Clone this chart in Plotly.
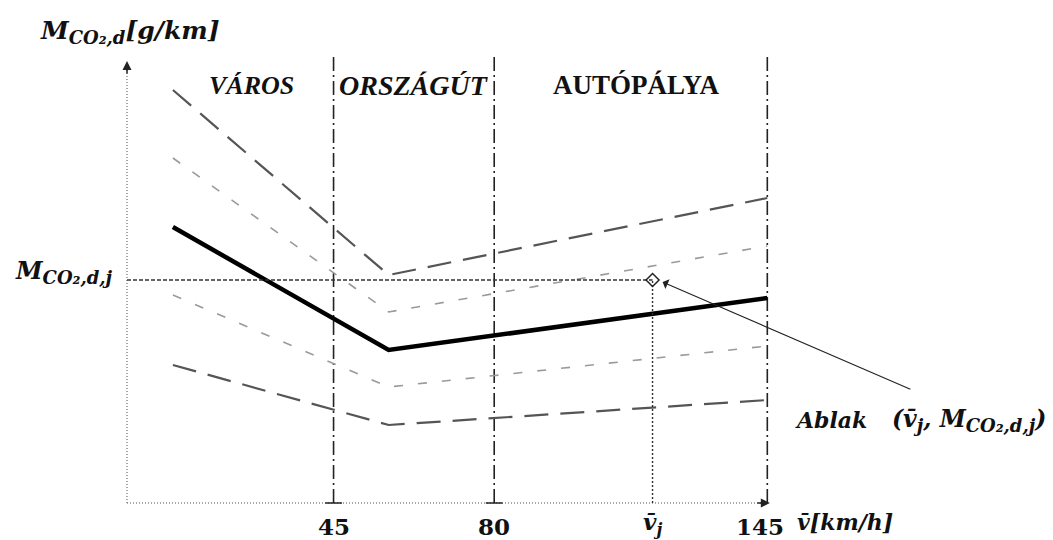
import plotly.graph_objects as go

# ---- data (schematic positions on the speed axis, emission in arbitrary g/km units) ----
speed_pts = [10, 57, 139.5]                 # start, knee, end of each curve
curve_top = [206.5, 114, 152.5]             # upper dashed band
curve_upper = [172.5, 95.5, 128.5]          # upper light dashed band
curve_main = [138, 76.5, 102.5]             # main (solid) curve
curve_lower = [104, 58, 78.5]               # lower light dashed band
curve_bottom = [69, 39, 51.5]               # lower dashed band

boundary_pos = [45, 80, 139.5]              # 45, 80, 145 km/h boundaries (drawn positions)
boundary_labels = ["45", "80", "145"]
region_names = ["VÁROS", "ORSZÁGÚT", "AUTÓPÁLYA"]
region_centers = [27.2, 62.6, 110.9]

v_j = 114.5                                 # window mean speed
m_j = 111.5                                 # window CO2 emission

x_end = 139.65
y_top = 224
serif = "Liberation Serif"
math = "DejaVu Serif"

fig = go.Figure()

# axes (dotted gray)
fig.add_trace(go.Scatter(x=[0, x_end], y=[0, 0], mode="lines",
                         line=dict(color="#8a8a8a", width=1.5, dash="1px,2px"), hoverinfo="skip"))
fig.add_trace(go.Scatter(x=[0, 0], y=[0, 219], mode="lines",
                         line=dict(color="#8a8a8a", width=1.5, dash="1px,2px"), hoverinfo="skip"))

# region boundaries (dash-dot)
for b in boundary_pos:
    fig.add_trace(go.Scatter(x=[b, b], y=[0, y_top], mode="lines",
                             line=dict(color="#222222", width=1.6, dash="14px,4px,2px,4px"),
                             hoverinfo="skip"))
# small tick marks at 45 and 80
fig.add_trace(go.Scatter(x=boundary_pos[:2], y=[0, 0], mode="markers",
                         marker=dict(symbol="line-ew", size=12, line=dict(color="#222", width=1.5)),
                         hoverinfo="skip"))

# curves
fig.add_trace(go.Scatter(x=speed_pts, y=curve_top, mode="lines",
                         line=dict(color="#555555", width=2.2, dash="24px,12px"), hoverinfo="skip"))
fig.add_trace(go.Scatter(x=speed_pts, y=curve_upper, mode="lines",
                         line=dict(color="#9a9a9a", width=1.6, dash="9px,15px"), hoverinfo="skip"))
fig.add_trace(go.Scatter(x=speed_pts, y=curve_lower, mode="lines",
                         line=dict(color="#9a9a9a", width=1.6, dash="9px,15px"), hoverinfo="skip"))
fig.add_trace(go.Scatter(x=speed_pts, y=curve_bottom, mode="lines",
                         line=dict(color="#555555", width=2.2, dash="24px,12px"), hoverinfo="skip"))
fig.add_trace(go.Scatter(x=speed_pts, y=curve_main, mode="lines",
                         line=dict(color="#000000", width=4.5), hoverinfo="skip"))

# window point guide lines
fig.add_trace(go.Scatter(x=[0, v_j], y=[m_j, m_j], mode="lines",
                         line=dict(color="#333333", width=1.4, dash="4px,2px"), hoverinfo="skip"))
fig.add_trace(go.Scatter(x=[v_j, v_j], y=[0, m_j], mode="lines",
                         line=dict(color="#333333", width=1.4, dash="2px,2px"), hoverinfo="skip"))
fig.add_trace(go.Scatter(x=[v_j], y=[m_j], mode="markers",
                         marker=dict(symbol="diamond-open", size=10, color="#222", line=dict(width=1.5)),
                         hoverinfo="skip"))

ann = []
# axis arrowheads
ann.append(dict(x=0, y=221, xref="x", yref="y", ax=0, ay=14, text="", showarrow=True,
                arrowhead=2, arrowsize=1.2, arrowwidth=1.5, arrowcolor="#222"))
ann.append(dict(x=x_end + 0.4, y=0, xref="x", yref="y", ax=-14, ay=0, text="", showarrow=True,
                arrowhead=2, arrowsize=1.2, arrowwidth=1.5, arrowcolor="#222"))

# pointer arrow to the window point
ann.append(dict(x=v_j + 2.2, y=m_j - 1, xref="x", yref="y", ax=171, ay=56.5, axref="x", ayref="y",
                text="", showarrow=True, arrowhead=1, arrowsize=1.6, arrowwidth=1.1, arrowcolor="#222"))

# region names
region_fmt = [("<b><i>{}</i></b>", 26), ("<b><i>{}</i></b>", 28), ("<b>{}</b>", 27)]
for name, cx, (fmt, sz) in zip(region_names, region_centers, region_fmt):
    ann.append(dict(x=cx, y=209, xref="x", yref="y", text=fmt.format(name), showarrow=False,
                    font=dict(family=serif, size=sz, color="#111")))

# tick labels
for i, (b, lab) in enumerate(zip(boundary_pos, boundary_labels)):
    ann.append(dict(x=b, y=-11.5, xref="x", yref="y", text=f"<b>{lab}</b>", showarrow=False,
                    xshift=-7 if i == len(boundary_pos) - 1 else 0,
                    font=dict(family=math, size=23, color="#111")))
ann.append(dict(x=v_j, y=-10, xref="x", yref="y", text="<b><i>v\u0304<sub>j</sub></i></b>",
                showarrow=False, font=dict(family=math, size=23, color="#111")))

sub = '<sub><span style="font-size:18px">{}</span></sub>'

# axis titles
ann.append(dict(x=-19.4, y=235.5, xref="x", yref="y", xanchor="left",
                text="<b><i>M" + sub.format("CO₂,d") + "[g/km]</i></b>", showarrow=False,
                font=dict(family=math, size=25, color="#111")))
ann.append(dict(x=145.6, y=-9.5, xref="x", yref="y", xanchor="left",
                text="<b><i>v\u0304[km/h]</i></b>", showarrow=False,
                font=dict(family=math, size=22, color="#111")))
ann.append(dict(x=-24.8, y=115.5, xref="x", yref="y", xanchor="left",
                text="<b><i>M" + sub.format("CO₂,d,j") + "</i></b>", showarrow=False,
                font=dict(family=math, size=24, color="#111")))

# window label
ann.append(dict(x=145.1, y=41.5, xref="x", yref="y", xanchor="left",
                text="<b><i>Ablak</i></b>", showarrow=False,
                font=dict(family=math, size=22, color="#111")))
ann.append(dict(x=166.2, y=41.5, xref="x", yref="y", xanchor="left",
                text="<b><i>(v\u0304" + sub.format("j") + ", M" + sub.format("CO₂,d,j") + ")</i></b>",
                showarrow=False, font=dict(family=math, size=23.5, color="#111")))

px_x = 4.59
px_y = 2.0
fig.update_layout(
    width=1053, height=540,
    margin=dict(l=0, r=0, t=0, b=0),
    paper_bgcolor="white", plot_bgcolor="white",
    showlegend=False,
    annotations=ann,
    xaxis=dict(range=[-127 / px_x, (1053 - 127) / px_x], visible=False, fixedrange=True),
    yaxis=dict(range=[-(540 - 503) / px_y, 503 / px_y], visible=False, fixedrange=True),
)

fig.write_html("out.html")
